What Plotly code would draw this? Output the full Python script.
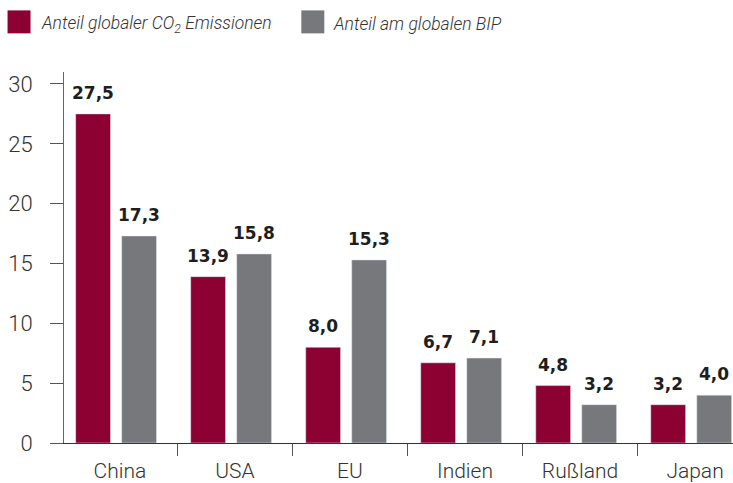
import plotly.graph_objects as go

categories = ["China", "USA", "EU", "Indien", "Rußland", "Japan"]
co2_share = [27.5, 13.9, 8.0, 6.7, 4.8, 3.2]
gdp_share = [17.3, 15.8, 15.3, 7.1, 3.2, 4.0]
series_names = ["Anteil globaler CO<sub>2</sub> Emissionen", "Anteil am globalen BIP"]
y_ticks = [0, 5, 10, 15, 20, 25, 30]

RED = "#8C0032"
GRAY = "#77787C"
W = 733
H = 483
L, R, T, B = 63.5, 0, 71.7, 39.7
BAR_W = 0.303
OFF_RED = -0.385
OFF_GRAY = 0.015

def fmt(v):
    return f"{v:.1f}".replace(".", ",")

fig = go.Figure()
fig.add_trace(go.Bar(x=categories, y=co2_share, name=series_names[0], marker_color=RED,
                     width=BAR_W, offset=OFF_RED, showlegend=False))
fig.add_trace(go.Bar(x=categories, y=gdp_share, name=series_names[1], marker_color=GRAY,
                     width=BAR_W, offset=OFF_GRAY, showlegend=False))

annotations = []
for i, (a, b) in enumerate(zip(co2_share, gdp_share)):
    for v, off in ((a, OFF_RED), (b, OFF_GRAY)):
        annotations.append(dict(x=i + off + BAR_W / 2, y=v, xref="x", yref="y", text=fmt(v),
                                showarrow=False, yanchor="bottom", xanchor="center", yshift=9,
                                font=dict(family="DejaVu Sans", size=17, color="#1e1e1e", weight="bold")))

pw = W - L - R
ph = H - T - B
def px(xp):
    return (xp - L) / pw
def py(yp):
    return (H - B - yp) / ph

shapes = []
legend_items = [(7, 30, RED, 38, series_names[0]), (301, 324, GRAY, 331, series_names[1])]
for x0, x1, col, tx, name in legend_items:
    shapes.append(dict(type="rect", xref="paper", yref="paper", x0=px(x0), x1=px(x1),
                       y0=py(33), y1=py(10), fillcolor=col, line_width=0))
    annotations.append(dict(x=px(tx), y=py(24), xref="paper", yref="paper", text=name,
                            showarrow=False, xanchor="left", yanchor="middle",
                            font=dict(family="Roboto", size=17.5, color="#333", style="italic", weight=300)))

fig.update_layout(
    width=W, height=H,
    margin=dict(l=L, r=R, t=T, b=B, pad=0),
    plot_bgcolor="white", paper_bgcolor="white",
    barmode="overlay",
    annotations=annotations,
    shapes=shapes,
    font=dict(family="Roboto", color="#333"),
)
fig.update_xaxes(
    range=[-0.4865, 5.33], showline=True, linecolor="#333", linewidth=1,
    ticks="outside", tickson="boundaries", ticklen=12, tickcolor="#555",
    tickfont=dict(family="Roboto", size=21, color="#333", weight=300), ticklabelstandoff=9,
    showgrid=False, zeroline=False, fixedrange=True,
)
fig.update_yaxes(
    range=[0, 31], tickvals=y_ticks, showline=True, linecolor="#666", linewidth=1,
    ticks="outside", ticklen=13, tickcolor="#555",
    tickfont=dict(family="Roboto", size=22, color="#333", weight=300), ticklabelstandoff=13,
    showgrid=False, zeroline=False, fixedrange=True,
)

fig.write_html("out.html", config={"displayModeBar": False})
